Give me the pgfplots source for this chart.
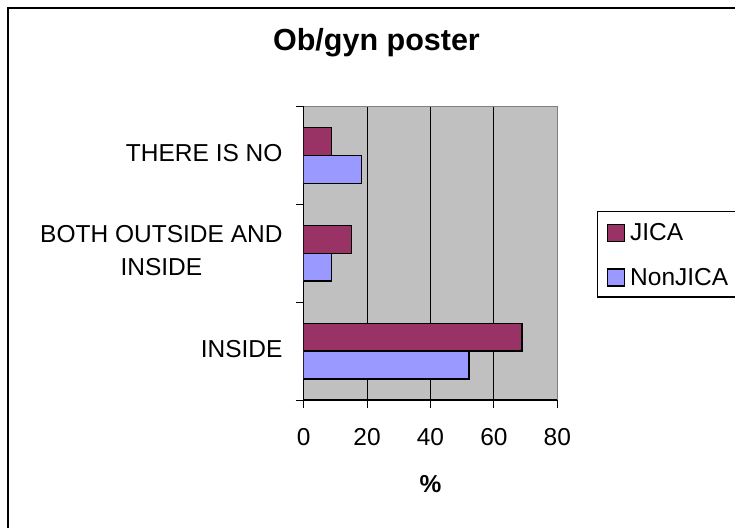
\documentclass[border=0pt]{standalone}
\usepackage{fontspec}
\setmainfont{Liberation Sans}
\usepackage{pgfplots}
\pgfplotsset{compat=1.18}
\definecolor{jica}{RGB}{153,51,102}
\definecolor{nonjica}{RGB}{153,153,255}
\definecolor{plotbg}{RGB}{192,192,192}
\definecolor{plotedge}{RGB}{128,128,128}
\newcommand\lblfont{\fontsize{24.5}{33}\selectfont}
\pgfplotsset{sqleg/.style={legend image code/.code={\draw[##1] (0pt,-8.5pt) rectangle (17pt,8.5pt);}}}

\begin{document}
\begin{tikzpicture}
\path[use as bounding box] (0,0) rectangle (735pt,527pt);
\clip (0,0) rectangle (735pt,527pt);
% outer chart frame and legend frame (both run past the right edge of the picture)
\draw[line width=2pt] (8.3pt,-10pt) -- (8.3pt,518.7pt) -- (745pt,518.7pt);
\draw[line width=1.2pt] (760pt,315.5pt) -- (597.5pt,315.5pt) -- (597.5pt,230pt) -- (760pt,230pt);
\begin{axis}[
  at={(303.7pt,127pt)}, anchor=south west,
  scale only axis, width=253.6pt, height=293.3pt,
  xbar, bar width=0.285,
  xmin=0, xmax=80, ymin=0.5, ymax=3.5,
  axis x line=bottom, axis y line=left,
  axis line style={-, black, line width=1.3pt},
  axis background/.style={fill=plotbg, draw=plotedge, line width=1pt},
  xtick={0,20,40,60,80}, xtick align=outside, major tick length=8pt,
  extra x ticks={20,40,60}, extra x tick labels={},
  extra x tick style={grid=major},
  grid style={black, line width=1pt},
  ytick={1,2,3},
  yticklabels={INSIDE,{BOTH OUTSIDE AND\\INSIDE},THERE IS NO},
  minor ytick={0.5,1.5,2.5,3.5}, minor tick length=8pt, ytick align=outside,
  every major y tick/.append style={draw=none},
  tick style={black, line width=1pt},
  /pgf/number format/assume math mode=true,
  xticklabel style={font=\lblfont, anchor=north, inner sep=0pt, yshift=-20.5pt},
  yticklabel style={font=\lblfont, anchor=east, align=center, inner sep=0pt,
    xshift=-13pt, yshift=2.5pt},
  xlabel={\%},
  xlabel style={at={(axis description cs:0.5,-0.2557)}, anchor=north, inner sep=0pt,
    font=\bfseries\fontsize{24.5}{30}\selectfont},
  title={Ob/gyn poster},
  title style={at={(axis description cs:0.287,1.1705)}, anchor=base, inner sep=0pt,
    font=\bfseries\fontsize{30.5}{36}\selectfont},
  legend cell align=left,
  legend style={at={(axis description cs:1.1585,0.6427)}, anchor=north west,
    draw=none, fill=none, inner xsep=9pt, inner ysep=12pt,
    row sep=26pt, column sep=5pt, font=\fontsize{24.5}{30}\selectfont,
    nodes={inner sep=0pt}},
]
\addplot[fill=jica, draw=black, line width=1.5pt, bar shift=0.1425, sqleg]
  coordinates {(68.9,1) (15.1,2) (8.8,3)};
\addlegendentry{JICA}
\addplot[fill=nonjica, draw=black, line width=1.5pt, bar shift=-0.1425, sqleg]
  coordinates {(52.2,1) (8.8,2) (18.3,3)};
\addlegendentry{NonJICA}
\end{axis}
\end{tikzpicture}
\end{document}
